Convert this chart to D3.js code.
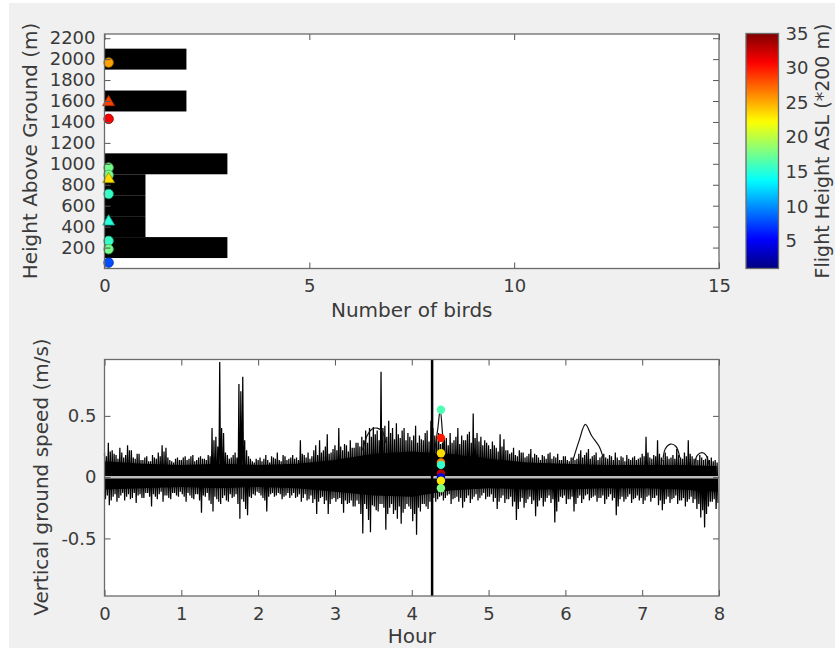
<!DOCTYPE html>
<html>
<head>
<meta charset="utf-8">
<script src="https://cdn.jsdelivr.net/npm/d3@7"></script>
<style>
  body { margin: 0; background: #fff; }
  text { font-family: "DejaVu Sans", sans-serif; fill: #3a3a3a; }
</style>
</head>
<body>
<script>
// ---- top panel: number of birds per 200 m height bin
const heightBins = [200, 400, 600, 800, 1000, 1200, 1400, 1600, 1800, 2000, 2200];
const birdCounts = [3, 1, 1, 1, 3, 0, 0, 2, 0, 2, 0];
const heightTicks = [200, 400, 600, 800, 1000, 1200, 1400, 1600, 1800, 2000, 2200];
const countTicks = [0, 5, 10, 15];

// individual birds (height above ground, flight height ASL in 200 m units, marker)
const birdHeights = [1967, 1588, 1429, 964, 894, 853, 712, 448, 264, 184, 56];
const birdASL = [25.4, 28.6, 31, 17.6, 17.5, 23.4, 15.6, 15, 15.6, 17.6, 7.8];
const birdShape = ['o', '^', 'o', 'o', 'o', '^', 'o', '^', 'o', 'o', 'o'];
const birdCountX = 0.1;

const aslTicks = [5, 10, 15, 20, 25, 30, 35];

// ---- bottom panel: vertical ground speed over 8 hours
const hourTicks = [0, 1, 2, 3, 4, 5, 6, 7, 8];
const speedTicks = [-0.5, 0, 0.5];
const sampleStep = 0.05; // hours between envelope samples

// highest / lowest excursions in each 0.05 h slot
const noiseHi = [
  0.20, 0.28, 0.22, 0.18, 0.24, 0.16, 0.26, 0.22, 0.15, 0.19,
  0.14, 0.17, 0.13, 0.16, 0.20, 0.26, 0.24, 0.14, 0.12, 0.16,
  0.14, 0.17, 0.15, 0.18, 0.14, 0.17, 0.15, 0.18, 0.40, 0.33,
  0.94, 0.36, 0.18, 0.16, 0.20, 0.76, 0.82, 0.22, 0.15, 0.12,
  0.14, 0.13, 0.18, 0.12, 0.16, 0.20, 0.13, 0.17, 0.15, 0.18,
  0.16, 0.30, 0.18, 0.20, 0.17, 0.26, 0.30, 0.22, 0.35, 0.20,
  0.26, 0.40, 0.22, 0.26, 0.30, 0.24, 0.28, 0.33, 0.38, 0.40,
  0.41, 0.38, 0.86, 0.42, 0.46, 0.40, 0.44, 0.32, 0.40, 0.36,
  0.30, 0.42, 0.34, 0.30, 0.38, 0.46, 0.34, 0.36, 0.28, 0.32,
  0.36, 0.30, 0.40, 0.34, 0.30, 0.37, 0.52, 0.36, 0.33, 0.30,
  0.26, 0.29, 0.24, 0.35, 0.31, 0.22, 0.20, 0.18, 0.22, 0.20,
  0.17, 0.23, 0.19, 0.16, 0.18, 0.15, 0.20, 0.17, 0.19, 0.14,
  0.17, 0.13, 0.16, 0.15, 0.22, 0.18, 0.23, 0.17, 0.20, 0.16,
  0.19, 0.15, 0.17, 0.20, 0.14, 0.16, 0.18, 0.14, 0.17, 0.15,
  0.19, 0.33, 0.16, 0.18, 0.30, 0.16, 0.20, 0.15, 0.18, 0.23,
  0.16, 0.20, 0.30, 0.17, 0.15, 0.18, 0.14, 0.17, 0.16, 0.14,
  0.12
];
const noiseLo = [
  -0.18, -0.23, -0.16, -0.20, -0.15, -0.19, -0.14, -0.17, -0.21, -0.14,
  -0.17, -0.13, -0.24, -0.16, -0.14, -0.20, -0.15, -0.18, -0.13, -0.16,
  -0.14, -0.20, -0.15, -0.18, -0.14, -0.29, -0.16, -0.19, -0.28, -0.18,
  -0.22, -0.15, -0.20, -0.17, -0.14, -0.34, -0.20, -0.31, -0.17, -0.15,
  -0.13, -0.17, -0.28, -0.14, -0.16, -0.13, -0.18, -0.15, -0.17, -0.13,
  -0.16, -0.20, -0.14, -0.18, -0.21, -0.30, -0.17, -0.22, -0.30, -0.18,
  -0.20, -0.17, -0.29, -0.22, -0.19, -0.24, -0.22, -0.46, -0.26, -0.45,
  -0.24, -0.28, -0.22, -0.43, -0.25, -0.30, -0.34, -0.38, -0.26, -0.24,
  -0.36, -0.47, -0.28, -0.22, -0.26, -0.18, -0.20, -0.16, -0.19, -0.15,
  -0.22, -0.17, -0.20, -0.25, -0.17, -0.21, -0.16, -0.19, -0.15, -0.18,
  -0.16, -0.20, -0.26, -0.17, -0.21, -0.18, -0.24, -0.35, -0.20, -0.25,
  -0.18, -0.22, -0.32, -0.19, -0.24, -0.17, -0.21, -0.37, -0.20, -0.17,
  -0.22, -0.18, -0.28, -0.17, -0.21, -0.15, -0.19, -0.16, -0.20, -0.17,
  -0.22, -0.16, -0.19, -0.31, -0.18, -0.20, -0.16, -0.21, -0.17, -0.19,
  -0.22, -0.16, -0.20, -0.17, -0.23, -0.27, -0.18, -0.21, -0.17, -0.22,
  -0.19, -0.24, -0.18, -0.21, -0.26, -0.33, -0.41, -0.24, -0.20, -0.26,
  -0.22
];
// secondary excursions, half a slot later
const noiseHi2 = [
  0.17, 0.21, 0.19, 0.15, 0.20, 0.18, 0.22, 0.16, 0.19, 0.14,
  0.16, 0.13, 0.18, 0.15, 0.17, 0.21, 0.16, 0.13, 0.15, 0.14,
  0.16, 0.14, 0.17, 0.13, 0.16, 0.15, 0.14, 0.17, 0.30, 0.25,
  0.40, 0.20, 0.15, 0.18, 0.16, 0.70, 0.30, 0.17, 0.13, 0.15,
  0.16, 0.15, 0.14, 0.17, 0.15, 0.14, 0.18, 0.14, 0.16, 0.15,
  0.14, 0.19, 0.16, 0.15, 0.22, 0.18, 0.20, 0.25, 0.19, 0.23,
  0.22, 0.25, 0.27, 0.21, 0.24, 0.28, 0.25, 0.30, 0.28, 0.33,
  0.35, 0.30, 0.40, 0.33, 0.36, 0.31, 0.35, 0.38, 0.30, 0.33,
  0.34, 0.28, 0.31, 0.36, 0.29, 0.40, 0.30, 0.27, 0.31, 0.26,
  0.28, 0.33, 0.27, 0.30, 0.35, 0.28, 0.32, 0.29, 0.26, 0.28,
  0.23, 0.26, 0.21, 0.25, 0.22, 0.19, 0.24, 0.17, 0.20, 0.16,
  0.19, 0.16, 0.18, 0.14, 0.17, 0.19, 0.15, 0.16, 0.14, 0.17,
  0.14, 0.16, 0.14, 0.19, 0.16, 0.20, 0.15, 0.18, 0.14, 0.17,
  0.16, 0.18, 0.14, 0.16, 0.17, 0.13, 0.15, 0.16, 0.14, 0.16,
  0.17, 0.20, 0.15, 0.17, 0.19, 0.14, 0.17, 0.16, 0.15, 0.18,
  0.15, 0.17, 0.19, 0.15, 0.14, 0.16, 0.15, 0.14, 0.13, 0.12
];
const noiseLo2 = [
  -0.15, -0.19, -0.14, -0.17, -0.13, -0.16, -0.18, -0.13, -0.15, -0.17,
  -0.13, -0.16, -0.14, -0.18, -0.12, -0.15, -0.17, -0.13, -0.15, -0.12,
  -0.16, -0.13, -0.17, -0.14, -0.19, -0.15, -0.13, -0.22, -0.16, -0.20,
  -0.17, -0.19, -0.14, -0.16, -0.22, -0.18, -0.26, -0.16, -0.14, -0.12,
  -0.15, -0.19, -0.16, -0.13, -0.15, -0.14, -0.16, -0.13, -0.15, -0.17,
  -0.14, -0.17, -0.19, -0.15, -0.18, -0.20, -0.16, -0.19, -0.22, -0.17,
  -0.18, -0.22, -0.19, -0.21, -0.24, -0.19, -0.30, -0.22, -0.35, -0.23,
  -0.27, -0.22, -0.25, -0.30, -0.22, -0.27, -0.24, -0.29, -0.22, -0.26,
  -0.30, -0.25, -0.22, -0.24, -0.20, -0.17, -0.18, -0.15, -0.17, -0.14,
  -0.18, -0.16, -0.17, -0.20, -0.15, -0.18, -0.14, -0.17, -0.13, -0.16,
  -0.14, -0.17, -0.20, -0.15, -0.18, -0.16, -0.20, -0.26, -0.17, -0.21,
  -0.16, -0.19, -0.24, -0.17, -0.20, -0.15, -0.18, -0.28, -0.16, -0.15,
  -0.18, -0.16, -0.22, -0.15, -0.18, -0.14, -0.17, -0.15, -0.17, -0.15,
  -0.18, -0.14, -0.17, -0.24, -0.16, -0.18, -0.14, -0.18, -0.15, -0.17,
  -0.19, -0.15, -0.17, -0.15, -0.19, -0.22, -0.16, -0.18, -0.15, -0.19,
  -0.17, -0.20, -0.16, -0.18, -0.22, -0.27, -0.30, -0.20, -0.18, -0.21
];

// dense core of the signal, every half hour
const coreHours = [0, 0.5, 1, 1.5, 2, 2.5, 3, 3.5, 4, 4.5, 5, 5.5, 6, 6.5, 7, 7.5, 7.97];
const coreUp = [0.13, 0.11, 0.10, 0.11, 0.10, 0.11, 0.14, 0.19, 0.21, 0.19, 0.15, 0.12, 0.11, 0.10, 0.10, 0.10, 0.09];
const coreLo = [-0.10, -0.09, -0.08, -0.09, -0.08, -0.09, -0.12, -0.15, -0.16, -0.11, -0.09, -0.10, -0.10, -0.09, -0.09, -0.10, -0.12];

// smooth single tracks that stand out of the noise [hour, speed]
const tracks = [
  [[3.36, 0.22], [3.42, 0.34], [3.48, 0.39], [3.55, 0.40], [3.62, 0.37], [3.66, 0.28]],
  [[4.30, 0.22], [4.34, 0.40], [4.37, 0.55], [4.40, 0.36], [4.42, 0.20]],
  [[6.10, 0.14], [6.18, 0.30], [6.26, 0.43], [6.34, 0.34], [6.44, 0.25], [6.50, 0.14]],
  [[7.27, 0.13], [7.30, 0.23], [7.37, 0.27], [7.44, 0.25], [7.49, 0.16]],
  [[7.68, 0.11], [7.72, 0.18], [7.78, 0.20], [7.83, 0.18], [7.87, 0.10]]
];

const cursorHour = 4.265;
const markerHour = 4.38;
const markerSpeed = [0.55, 0.32, 0.195, 0.12, 0.10, 0.03, 0.0, -0.03, -0.09];
const markerASL = [16.3, 30, 23.4, 26.5, 15.5, 33, 4, 23, 18];

// jet colormap
function jet(t) {
  const c = v => Math.round(255 * Math.max(0, Math.min(1, v)));
  return d3.rgb(c(1.5 - Math.abs(4 * t - 3)), c(1.5 - Math.abs(4 * t - 2)), c(1.5 - Math.abs(4 * t - 1))).formatHex();
}
const aslDomain = [1, 35];
const colorOf = v => jet((v - aslDomain[0]) / (aslDomain[1] - aslDomain[0]));
const plain = d => String(d);

const W = 835, H = 653;
const svg = d3.select('body').append('svg')
  .attr('width', W)
  .attr('height', H);

svg.append('rect')
  .attr('x', 9).attr('y', 3)
  .attr('width', W - 9).attr('height', 645)
  .attr('fill', '#f0f0f0');

// ================= top panel
const xTop = d3.scaleLinear().domain([0, 15]).range([104.5, 719]);
const yTop = d3.scaleLinear().domain([0, 2240]).range([268.5, 34]);

svg.append('rect')
  .attr('x', 104.5).attr('y', 34)
  .attr('width', 719 - 104.5).attr('height', 268.5 - 34)
  .attr('fill', '#fff');

svg.append('g').selectAll('rect')
  .data(heightBins.map((h, i) => ({ h, n: birdCounts[i] })).filter(d => d.n > 0))
  .join('rect')
  .attr('x', xTop(0))
  .attr('y', d => yTop(d.h + 100))
  .attr('width', d => xTop(d.n) - xTop(0))
  .attr('height', d => yTop(d.h - 100) - yTop(d.h + 100))
  .attr('fill', '#000');

const birds = birdHeights.map((h, i) => ({ h, c: colorOf(birdASL[i]), s: birdShape[i] }));
svg.append('g').selectAll('path')
  .data(birds)
  .join('path')
  .attr('transform', d => `translate(${xTop(birdCountX)},${yTop(d.h)})`)
  .attr('d', d => d.s === '^'
    ? d3.symbol(d3.symbolTriangle, 62)()
    : d3.symbol(d3.symbolCircle, 72)())
  .attr('fill', d => d.c)
  .attr('stroke', d => d3.rgb(d.c).darker(1.3))
  .attr('stroke-width', 0.8);

function styleAxis(g) {
  g.select('.domain').remove();
  g.selectAll('line').attr('stroke', '#555').attr('stroke-width', 1);
  g.selectAll('text').attr('fill', '#3a3a3a').style('font-size', '18px').attr('font-family', 'DejaVu Sans');
}

svg.append('g')
  .attr('transform', 'translate(104.5,0)')
  .call(d3.axisLeft(yTop).tickValues(heightTicks).tickFormat(plain).tickSize(-6).tickPadding(9))
  .call(styleAxis);
svg.append('g')
  .attr('transform', 'translate(719,0)')
  .call(d3.axisRight(yTop).tickValues(heightTicks).tickSize(-6).tickFormat(''))
  .call(styleAxis);
svg.append('g')
  .attr('transform', 'translate(0,268.5)')
  .call(d3.axisBottom(xTop).tickValues(countTicks).tickFormat(plain).tickSize(-6).tickPadding(11))
  .call(styleAxis);
svg.append('g')
  .attr('transform', 'translate(0,34)')
  .call(d3.axisTop(xTop).tickValues(countTicks).tickSize(-6).tickFormat(''))
  .call(styleAxis);

svg.append('rect')
  .attr('x', 104.5).attr('y', 34)
  .attr('width', 719 - 104.5).attr('height', 268.5 - 34)
  .attr('fill', 'none').attr('stroke', '#6b6b6b').attr('stroke-width', 1.3);

svg.append('text')
  .attr('x', 411.75).attr('y', 317)
  .attr('text-anchor', 'middle')
  .style('font-size', '20px')
  .text('Number of birds');
svg.append('text')
  .attr('transform', 'translate(37,151) rotate(-90)')
  .attr('text-anchor', 'middle')
  .style('font-size', '20px')
  .text('Height Above Ground (m)');

// colorbar
const cbY = d3.scaleLinear().domain(aslDomain).range([268.5, 33.5]);
const grad = svg.append('defs').append('linearGradient')
  .attr('id', 'jet').attr('x1', 0).attr('y1', 1).attr('x2', 0).attr('y2', 0);
grad.selectAll('stop')
  .data(d3.range(0, 1.0001, 0.02))
  .join('stop')
  .attr('offset', d => d)
  .attr('stop-color', d => jet(d));
svg.append('rect')
  .attr('x', 746).attr('y', 33.5)
  .attr('width', 32.5).attr('height', 268.5 - 33.5)
  .attr('fill', 'url(#jet)')
  .attr('stroke', '#6b6b6b').attr('stroke-width', 1.3);
svg.append('g')
  .attr('transform', 'translate(778.5,0)')
  .call(d3.axisRight(cbY).tickValues(aslTicks).tickFormat(plain).tickSize(0).tickPadding(7))
  .call(styleAxis);
svg.append('text')
  .attr('transform', 'translate(829,151) rotate(-90)')
  .attr('text-anchor', 'middle')
  .style('font-size', '19px')
  .text('Flight Height ASL (*200 m)');

// ================= bottom panel
const xBot = d3.scaleLinear().domain([0, 8]).range([104.5, 719]);
const yBot = d3.scaleLinear().domain([-0.97, 0.96]).range([596, 359.5]);

svg.append('rect')
  .attr('x', 104.5).attr('y', 359.5)
  .attr('width', 719 - 104.5).attr('height', 596 - 359.5)
  .attr('fill', '#fff');

const plot = svg.append('g');

plot.append('path')
  .datum(coreHours.map((h, i) => [h, coreUp[i], coreLo[i]]))
  .attr('d', d3.area().x(d => xBot(d[0])).y0(d => yBot(d[2])).y1(d => yBot(d[1])))
  .attr('fill', '#000');

// the signal: walk through the envelope samples of each slot in turn
const zig = [];
noiseHi.forEach((v, i) => {
  const t = i * sampleStep;
  if (t > 7.97) return;
  zig.push([t, v]);
  if (i < noiseHi2.length) {
    zig.push([t + sampleStep * 0.25, noiseLo[i]]);
    zig.push([t + sampleStep * 0.5, noiseHi2[i]]);
    zig.push([t + sampleStep * 0.75, noiseLo2[i]]);
  }
});
plot.append('path')
  .datum(zig)
  .attr('d', d3.line().x(d => xBot(d[0])).y(d => yBot(d[1])))
  .attr('fill', 'none')
  .attr('stroke', '#000')
  .attr('stroke-width', 1.25)
  .attr('stroke-linejoin', 'miter');

plot.append('g').selectAll('path')
  .data(tracks)
  .join('path')
  .attr('d', d3.line().x(d => xBot(d[0])).y(d => yBot(d[1])).curve(d3.curveCatmullRom))
  .attr('fill', 'none')
  .attr('stroke', '#111')
  .attr('stroke-width', 1.2);

plot.append('line')
  .attr('x1', xBot(0)).attr('x2', xBot(8))
  .attr('y1', yBot(0)).attr('y2', yBot(0))
  .attr('stroke', '#bdbdbd').attr('stroke-width', 2.5);

plot.append('line')
  .attr('x1', xBot(cursorHour)).attr('x2', xBot(cursorHour))
  .attr('y1', yBot(0.96)).attr('y2', yBot(-0.97))
  .attr('stroke', '#000').attr('stroke-width', 2.5);

plot.append('g').selectAll('circle')
  .data(markerSpeed.map((v, i) => ({ v, c: colorOf(markerASL[i]) })))
  .join('circle')
  .attr('cx', xBot(markerHour))
  .attr('cy', d => yBot(d.v))
  .attr('r', 4.2)
  .attr('fill', d => d.c);

svg.append('g')
  .attr('transform', 'translate(104.5,0)')
  .call(d3.axisLeft(yBot).tickValues(speedTicks).tickFormat(plain).tickSize(-6).tickPadding(8))
  .call(styleAxis);
svg.append('g')
  .attr('transform', 'translate(719,0)')
  .call(d3.axisRight(yBot).tickValues(speedTicks).tickSize(-6).tickFormat(''))
  .call(styleAxis);
svg.append('g')
  .attr('transform', 'translate(0,596)')
  .call(d3.axisBottom(xBot).tickValues(hourTicks).tickFormat(plain).tickSize(-6).tickPadding(11))
  .call(styleAxis);
svg.append('g')
  .attr('transform', 'translate(0,359.5)')
  .call(d3.axisTop(xBot).tickValues(hourTicks).tickSize(-6).tickFormat(''))
  .call(styleAxis);

svg.append('rect')
  .attr('x', 104.5).attr('y', 359.5)
  .attr('width', 719 - 104.5).attr('height', 596 - 359.5)
  .attr('fill', 'none').attr('stroke', '#6b6b6b').attr('stroke-width', 1.3);

svg.append('text')
  .attr('x', 411.75).attr('y', 643)
  .attr('text-anchor', 'middle')
  .style('font-size', '20px')
  .text('Hour');
svg.append('text')
  .attr('transform', 'translate(48,477) rotate(-90)')
  .attr('text-anchor', 'middle')
  .style('font-size', '20px')
  .text('Vertical ground speed (m/s)');
</script>
</body>
</html>
